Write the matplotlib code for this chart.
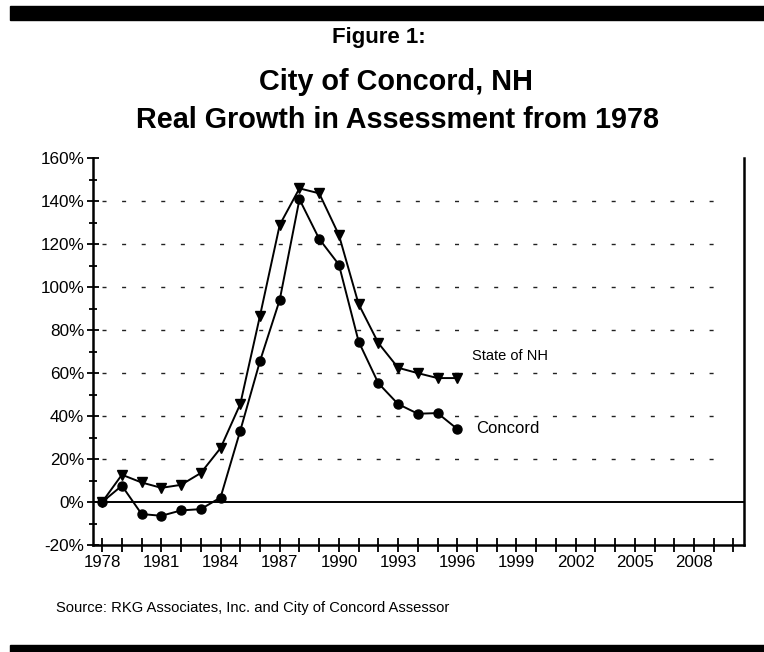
import numpy as np
import matplotlib
matplotlib.use("Agg")
import matplotlib.pyplot as plt
from matplotlib.patches import Rectangle
from matplotlib.ticker import MultipleLocator, FixedLocator, FuncFormatter

plt.rcParams['font.family'] = ['Liberation Sans', 'DejaVu Sans']

# data (percent growth since 1978)
years = list(range(1978, 1997))
concord = [0, 7.6, -5.6, -6.4, -3.9, -3.3, 2.1, 33.2, 65.6, 94.1, 140.9,
           122.5, 110.5, 74.7, 55.3, 45.6, 41.1, 41.4, 34.0]
state_nh = [0, 12.7, 9.1, 6.6, 8.0, 13.5, 25.1, 45.6, 86.7, 129.0, 146.0,
            143.7, 124.3, 92.1, 74.0, 62.5, 60.0, 57.7, 57.7]
grid_levels = [20, 40, 60, 80, 100, 120, 140]
label_years = list(range(1978, 2009, 3))

W, H = 764, 652
fig = plt.figure(figsize=(W / 100, H / 100), dpi=100)

# axes placed in pixel terms
x0, x1 = 93.3, 744.3
y_top, y_bot = 158.3, 545.0
ax = fig.add_axes([x0 / W, 1 - y_bot / H, (x1 - x0) / W, (y_bot - y_top) / H])
ax.set_xlim(1977.55, 2010.55)
ax.set_ylim(-20, 160)

# dashed grid, ending short of the right spine
ax.hlines(grid_levels, 1978, 2009.7, colors='#222222', linewidth=1.0,
          linestyles=[(0, (2.9, 11.2))])
ax.axhline(0, color='black', linewidth=1.4)

ax.plot(years, state_nh, color='black', linewidth=1.4, marker='v',
        markersize=7.5, clip_on=False)
ax.plot(years, concord, color='black', linewidth=1.4, marker='o',
        markersize=6.5, clip_on=False)

ax.text(1996.76, 68.0, "State of NH", fontsize=10.5, va='center', ha='left')
ax.text(1996.95, 34.0, "Concord", fontsize=12, va='center', ha='left')

for side in ['left', 'bottom', 'right']:
    ax.spines[side].set_linewidth(1.8)
    ax.spines[side].set_color('black')
ax.spines['top'].set_visible(False)

ax.xaxis.set_major_locator(FixedLocator(list(range(1978, 2011))))
ax.xaxis.set_major_formatter(FuncFormatter(
    lambda v, p: str(int(round(v))) if int(round(v)) in label_years else ''))
ax.yaxis.set_major_locator(MultipleLocator(20))
ax.yaxis.set_minor_locator(MultipleLocator(10))
ax.yaxis.set_major_formatter(FuncFormatter(lambda v, p: f"{int(round(v))}%"))

ax.tick_params(axis='x', direction='inout', length=10.5, width=1.3,
               labelsize=12.2, pad=2)
ax.tick_params(axis='y', which='major', direction='inout', length=9,
               width=1.3, labelsize=12.3, pad=2)
ax.tick_params(axis='y', which='minor', direction='inout', length=5.5,
               width=1.3)
ax.tick_params(right=False, top=False)

# titles
fig.text(378.8 / W, 1 - 38 / H, "Figure 1:", fontsize=16, fontweight='bold',
         ha='center', va='center')
fig.text(396.3 / W, 1 - 82 / H, "City of Concord, NH", fontsize=20.8,
         fontweight='bold', ha='center', va='center')
fig.text(397.5 / W, 1 - 120 / H, "Real Growth in Assessment from 1978",
         fontsize=20.7, fontweight='bold', ha='center', va='center')
fig.text(56 / W, 1 - 608.3 / H,
         "Source: RKG Associates, Inc. and City of Concord Assessor",
         fontsize=10.6, ha='left', va='center')

# black rules top and bottom
fig.patches.append(Rectangle((10 / W, 1 - 20 / H), 1, 14 / H,
                             transform=fig.transFigure, color='black'))
fig.patches.append(Rectangle((10 / W, 0), 1, 7 / H,
                             transform=fig.transFigure, color='black'))

fig.savefig("out.png", dpi=100)
